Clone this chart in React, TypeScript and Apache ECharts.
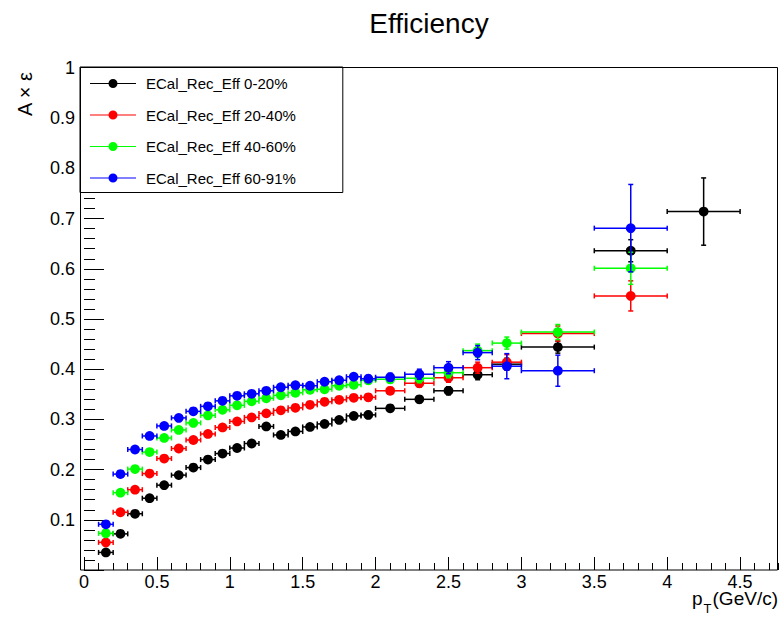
import React, { useEffect, useRef } from "react";
import * as echarts from "echarts";

// pT bin centres and half-widths (GeV/c)
const ptCenters = [
  0.15, 0.25, 0.35, 0.45, 0.55, 0.65, 0.75, 0.85, 0.95, 1.05, 1.15, 1.25, 1.35, 1.45,
  1.55, 1.65, 1.75, 1.85, 1.95, 2.1, 2.3, 2.5, 2.7, 2.9, 3.25, 3.75, 4.25,
];
const ptHalfWidths = [
  0.05, 0.05, 0.05, 0.05, 0.05, 0.05, 0.05, 0.05, 0.05, 0.05, 0.05, 0.05, 0.05, 0.05,
  0.05, 0.05, 0.05, 0.05, 0.05, 0.1, 0.1, 0.1, 0.1, 0.1, 0.25, 0.25, 0.25,
];

const seriesNames = [
  "ECal_Rec_Eff 0-20%",
  "ECal_Rec_Eff 20-40%",
  "ECal_Rec_Eff 40-60%",
  "ECal_Rec_Eff 60-91%",
];
const seriesColors = ["#000000", "#ff0000", "#00ff00", "#0000ff"];

// Acceptance x efficiency per centrality class
const eff0020 = [
  0.035, 0.072, 0.112, 0.143, 0.169, 0.189, 0.204, 0.22, 0.232, 0.243, 0.252, 0.286, 0.269,
  0.276, 0.285, 0.291, 0.299, 0.307, 0.309, 0.322, 0.34, 0.357, 0.389, 0.41, 0.444, 0.636,
  0.714,
];
const eff2040 = [
  0.055, 0.115, 0.16, 0.192, 0.222, 0.242, 0.259, 0.271, 0.284, 0.296, 0.304, 0.312, 0.318,
  0.323, 0.329, 0.335, 0.339, 0.343, 0.344, 0.357, 0.372, 0.383, 0.403, 0.414, 0.471, 0.546,
];
const eff4060 = [
  0.073, 0.154, 0.201, 0.235, 0.263, 0.279, 0.293, 0.308, 0.319, 0.328, 0.336, 0.342, 0.348,
  0.353, 0.359, 0.36, 0.367, 0.369, 0.378, 0.38, 0.382, 0.393, 0.437, 0.452, 0.474, 0.601,
];
const eff6091 = [
  0.091, 0.191, 0.24, 0.267, 0.287, 0.303, 0.316, 0.326, 0.337, 0.347, 0.351, 0.357, 0.364,
  0.368, 0.367, 0.375, 0.378, 0.385, 0.381, 0.384, 0.39, 0.403, 0.433, 0.406, 0.397, 0.681,
];

// Statistical uncertainties on the efficiency
const err0020 = [
  0.002, 0.003, 0.003, 0.003, 0.003, 0.003, 0.003, 0.004, 0.004, 0.004, 0.004, 0.005, 0.005,
  0.005, 0.005, 0.006, 0.006, 0.006, 0.007, 0.006, 0.007, 0.008, 0.01, 0.012, 0.012, 0.022,
  0.067,
];
const err2040 = [
  0.002, 0.003, 0.003, 0.003, 0.003, 0.003, 0.003, 0.004, 0.004, 0.004, 0.004, 0.005, 0.005,
  0.005, 0.005, 0.006, 0.006, 0.006, 0.007, 0.007, 0.008, 0.009, 0.011, 0.015, 0.015, 0.03,
];
const err4060 = [
  0.002, 0.003, 0.003, 0.003, 0.003, 0.003, 0.003, 0.004, 0.004, 0.004, 0.004, 0.005, 0.005,
  0.005, 0.005, 0.006, 0.006, 0.006, 0.007, 0.008, 0.009, 0.01, 0.013, 0.012, 0.015, 0.032,
];
const err6091 = [
  0.002, 0.003, 0.003, 0.003, 0.003, 0.003, 0.003, 0.004, 0.004, 0.004, 0.004, 0.005, 0.005,
  0.005, 0.005, 0.006, 0.006, 0.006, 0.007, 0.008, 0.01, 0.012, 0.014, 0.025, 0.031, 0.087,
];

const effValues = [eff0020, eff2040, eff4060, eff6091];
const effErrors = [err0020, err2040, err4060, err6091];

const FONT = "'Liberation Sans', Arial, Helvetica, sans-serif";
const X_MAX = 4.76;

const LEGEND_ICON =
  "path://M0,4.5L46,4.5L46,5.5L0,5.5Z M18.5,5A4.5,4.5,0,1,1,27.5,5A4.5,4.5,0,1,1,18.5,5Z";

function makeRenderer(color: string) {
  return (_params: any, api: any) => {
    const x = api.value(0);
    const y = api.value(1);
    const ex = api.value(2);
    const ey = api.value(3);
    const c = api.coord([x, y]);
    const left = api.coord([x - ex, y])[0];
    const right = api.coord([x + ex, y])[0];
    const top = api.coord([x, y + ey])[1];
    const bottom = api.coord([x, y - ey])[1];
    const cap = 2.5;
    const style = { stroke: color, lineWidth: 1.5 };
    return {
      type: "group",
      children: [
        { type: "line", shape: { x1: left, y1: c[1], x2: right, y2: c[1] }, style },
        { type: "line", shape: { x1: left, y1: c[1] - cap, x2: left, y2: c[1] + cap }, style },
        { type: "line", shape: { x1: right, y1: c[1] - cap, x2: right, y2: c[1] + cap }, style },
        { type: "line", shape: { x1: c[0], y1: top, x2: c[0], y2: bottom }, style },
        { type: "line", shape: { x1: c[0] - cap, y1: top, x2: c[0] + cap, y2: top }, style },
        { type: "line", shape: { x1: c[0] - cap, y1: bottom, x2: c[0] + cap, y2: bottom }, style },
        { type: "circle", shape: { cx: c[0], cy: c[1], r: 4.9 }, style: { fill: color } },
      ],
    };
  };
}

export default function App() {
  const ref = useRef<HTMLDivElement>(null);

  useEffect(() => {
    if (!ref.current) return;
    const chart = echarts.init(ref.current, undefined, { renderer: "svg" });

    const series = seriesNames.map((name, i) => ({
      name,
      type: "custom",
      xAxisIndex: 0,
      yAxisIndex: 0,
      clip: true,
      itemStyle: { color: seriesColors[i] },
      renderItem: makeRenderer(seriesColors[i]),
      encode: { x: 0, y: 1 },
      data: effValues[i].map((v, k) => [ptCenters[k], v, ptHalfWidths[k], effErrors[i][k]]),
    }));

    const tick = (len: number) => ({
      show: true,
      inside: true,
      length: len,
      lineStyle: { color: "#000", width: 1 },
    });

    chart.setOption({
      animation: false,
      backgroundColor: "#ffffff",
      grid: { left: 84, right: 1, top: 68, bottom: 47, containLabel: false },
      legend: {
        orient: "vertical",
        left: 80,
        top: 67,
        padding: [9, 47, 7, 10],
        itemGap: 16.5,
        itemWidth: 46,
        itemHeight: 10,
        borderColor: "#000",
        borderWidth: 1,
        backgroundColor: "#fff",
        selectedMode: false,
        textStyle: { fontSize: 15, fontFamily: FONT, color: "#000", padding: [0, 0, 0, 5] },
        data: seriesNames.map((name) => ({ name, icon: LEGEND_ICON })),
      },
      xAxis: [
        {
          type: "value",
          position: "bottom",
          min: 0,
          max: X_MAX,
          interval: 0.5,
          axisLine: { show: false },
          axisTick: tick(13),
          axisLabel: {
            fontSize: 18,
            fontFamily: FONT,
            color: "#000",
            margin: 3,
            showMaxLabel: false,
          },
          splitLine: { show: false },
        },
        {
          type: "value",
          position: "bottom",
          min: 0,
          max: X_MAX,
          interval: 0.1,
          axisLine: { show: false },
          axisTick: tick(7),
          axisLabel: { show: false },
          splitLine: { show: false },
        },
      ],
      yAxis: [
        {
          type: "value",
          position: "left",
          offset: 3,
          min: 0,
          max: 1,
          interval: 0.1,
          axisLine: { show: false },
          axisTick: tick(20),
          axisLabel: {
            fontSize: 18,
            fontFamily: FONT,
            color: "#000",
            margin: 6,
            formatter: (v: number) => (v === 0 ? "" : String(Math.round(v * 10) / 10)),
          },
          splitLine: { show: false },
        },
        {
          type: "value",
          position: "left",
          offset: 3,
          min: 0,
          max: 1,
          interval: 0.02,
          axisLine: { show: false },
          axisTick: tick(11),
          axisLabel: { show: false },
          splitLine: { show: false },
        },
      ],
      graphic: [
        {
          type: "rect",
          shape: { x: 80.5, y: 67.5, width: 697, height: 502.5 },
          style: { fill: "none", stroke: "#000", lineWidth: 1 },
          silent: true,
          z: 5,
        },
        {
          type: "text",
          x: 429,
          y: 23,
          style: {
            text: "Efficiency",
            font: `28px ${FONT}`,
            fill: "#000",
            align: "center",
            verticalAlign: "middle",
          },
        },
        {
          type: "text",
          x: 24.5,
          y: 72,
          rotation: Math.PI / 2,
          style: {
            text: "A × ε",
            font: `20px ${FONT}`,
            fill: "#000",
            align: "right",
            verticalAlign: "middle",
          },
        },
        {
          type: "text",
          x: 778,
          y: 589,
          style: {
            text: "{a|p}{s|T}{a|(GeV/c)}",
            align: "right",
            verticalAlign: "top",
            fill: "#000",
            rich: {
              a: { fontSize: 19, fontFamily: FONT, lineHeight: 19, verticalAlign: "top" },
              s: {
                fontSize: 13,
                fontFamily: FONT,
                lineHeight: 13,
                padding: [13, 1, 0, 1],
                verticalAlign: "top",
              },
            },
          },
        },
      ],
      series,
    });

    return () => chart.dispose();
  }, []);

  return (
    <div
      ref={ref}
      style={{ position: "fixed", left: 0, top: 0, width: 779, height: 617, background: "#fff" }}
    />
  );
}
